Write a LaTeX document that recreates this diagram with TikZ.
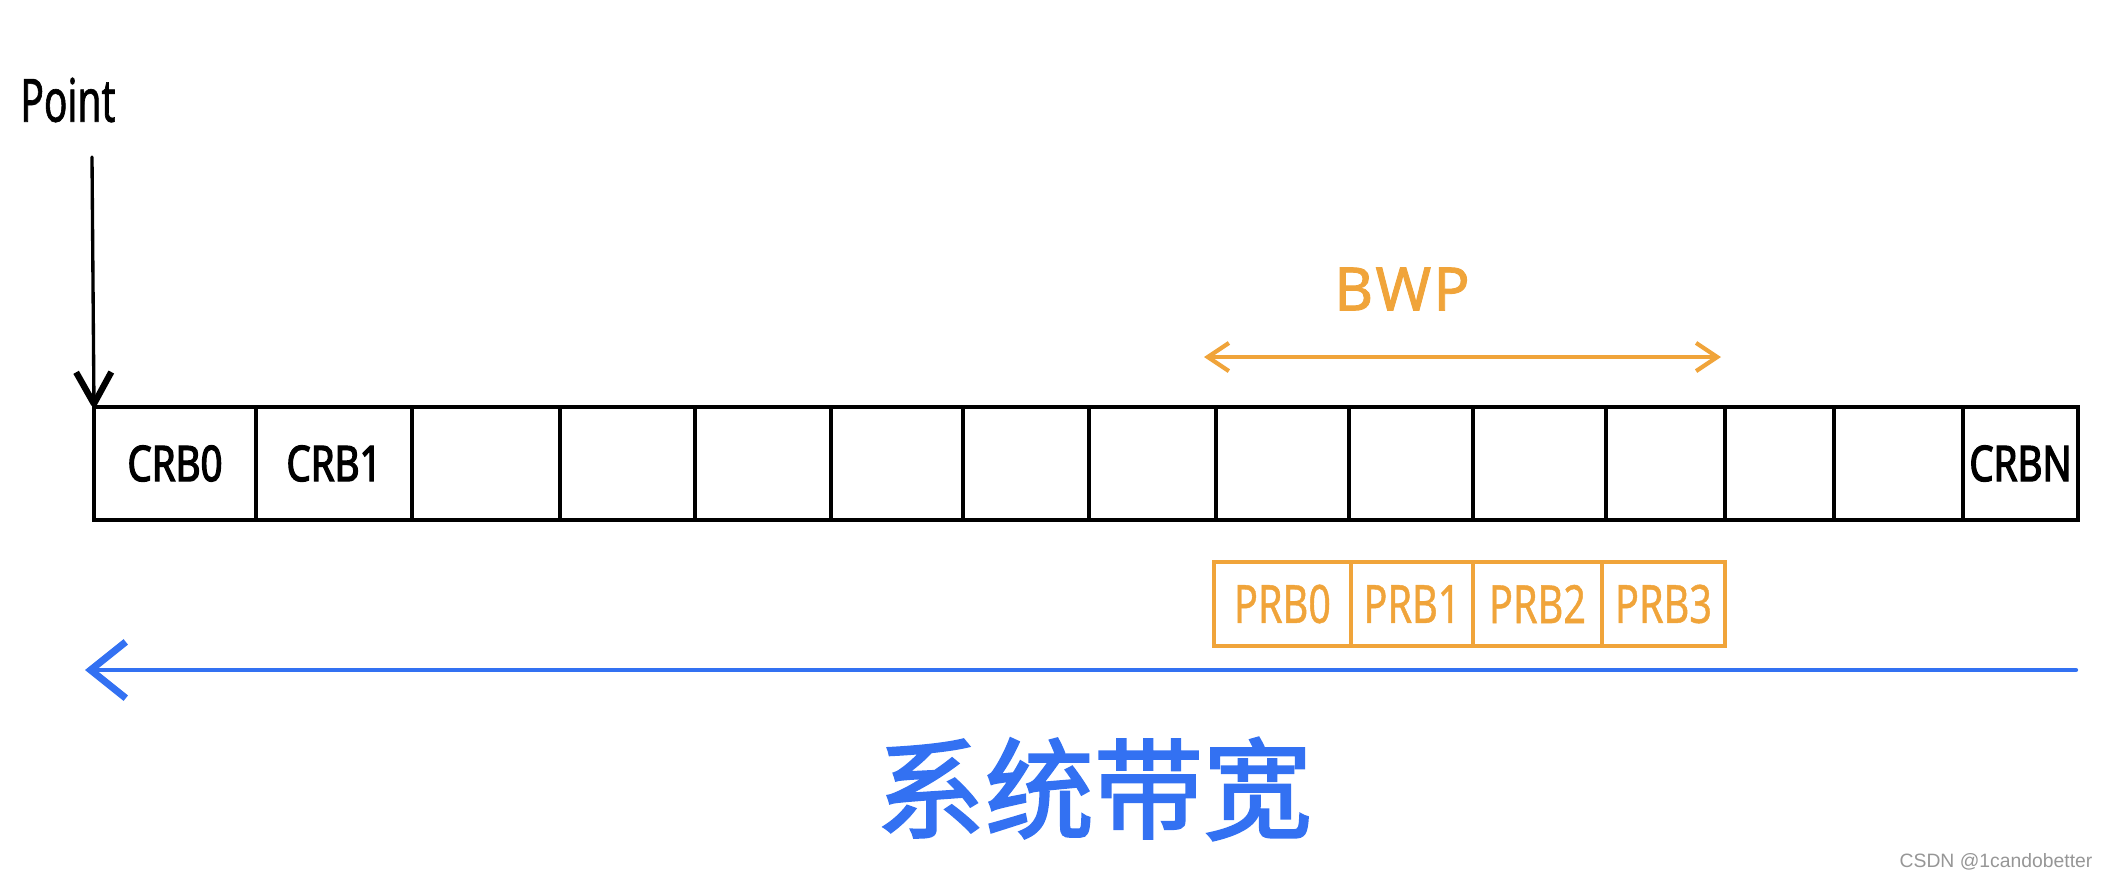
\documentclass[tikz,border=0pt]{standalone}
\usepackage{fontspec}
\setmainfont{Noto Sans}
\newfontfamily\cjk[FakeBold=2]{Noto Sans CJK SC}
\newfontfamily\narrowfont[FakeStretch=0.75,FakeBold=0.8]{Noto Sans}
\newfontfamily\pointfont[FakeStretch=0.65,FakeBold=1]{Noto Sans}
\newfontfamily\crbfont[FakeStretch=0.78,FakeBold=2.5]{Noto Sans}
\newfontfamily\bwpfont[FakeBold=1.5,LetterSpace=4]{Noto Sans}
\newfontfamily\wmfont{Liberation Sans}
\usetikzlibrary{arrows.meta}
\definecolor{bwporange}{RGB}{240,164,58}
\definecolor{bandblue}{RGB}{51,113,242}
\definecolor{wmgray}{RGB}{150,150,150}
\begin{document}
\begin{tikzpicture}[x=0.01cm,y=-0.01cm,
  cell/.style={draw=black, line width=1.15pt, inner sep=0pt, outer sep=0pt,
    minimum height=1.13cm, font=\crbfont\fontsize{14}{14}\selectfont},
  prbcell/.style={draw=bwporange, line width=1pt, inner sep=0pt, outer sep=0pt,
    minimum height=0.84cm, text=bwporange, font=\narrowfont\fontsize{15}{15}\selectfont},
  ptarrow/.style={draw=black, line width=0.95pt, line cap=round,
    -{Straight Barb[length=9pt,width=10pt,line width=1.8pt,line join=round]}},
  bwparrow/.style={draw=bwporange, line width=1pt, line cap=round,
    {Straight Barb[length=6pt,width=8pt,line width=1.2pt]}-{Straight Barb[length=6pt,width=8pt,line width=1.2pt]}},
  bluearrow/.style={draw=bandblue, line width=1.2pt, line cap=round,
    -{Straight Barb[length=10pt,width=16pt,line width=2pt]}}
]
\useasboundingbox (0,0) rectangle (2105,881);

% top label and pointer
\node[font=\pointfont\fontsize{17}{17}\selectfont, inner sep=0pt] (pointlbl) at (68,100) {Point};

% CRB row
\foreach \a/\b/\t [count=\i] in {94/256/CRB0, 256/412/CRB1, 412/560/{}, 560/695/{},
  695/831/{}, 831/963/{}, 963/1089/{}, 1089/1216/{}, 1216/1349/{}, 1349/1473/{},
  1473/1606/{}, 1606/1725/{}, 1725/1834/{}, 1834/1963/{}, 1963/2078/CRBN}{
  \pgfmathsetmacro\w{(\b-\a)*0.01}
  \node[cell, minimum width=\w cm] (c\i) at ({(\a+\b)/2},463.5) {\t};
}

\coordinate (ptop) at (92,157);
\draw[ptarrow] (ptop) -- (c1.north west);

% BWP
\node[text=bwporange, font=\bwpfont\fontsize{17}{17}\selectfont, inner sep=0pt] (bwp) at (1402,289) {BWP};
\coordinate (bwpL) at (1204,357);
\coordinate (bwpR) at (1721,357);
\draw[bwparrow] (bwpL) -- (bwpR);

% PRB row
\foreach \a/\b/\t [count=\i] in {1214/1351/PRB0, 1351/1473/PRB1, 1473/1602/PRB2, 1602/1725/PRB3}{
  \pgfmathsetmacro\w{(\b-\a)*0.01}
  \node[prbcell, minimum width=\w cm] (p\i) at ({(\a+\b)/2},604) {\t};
}

% system bandwidth arrow
\coordinate (bwR) at (2076,670);
\coordinate (bwL) at (85,670);
\draw[bluearrow] (bwR) -- (bwL);

\node[text=bandblue, font=\cjk\fontsize{31}{31}\selectfont, inner sep=0pt] (sysbw) at (1094,789) {系统带宽};

% watermark
\node[text=wmgray, font=\wmfont\fontsize{5.5}{6}\selectfont, inner sep=0pt] (wm) at (1996,862) {CSDN @1candobetter};
\end{tikzpicture}
\end{document}
